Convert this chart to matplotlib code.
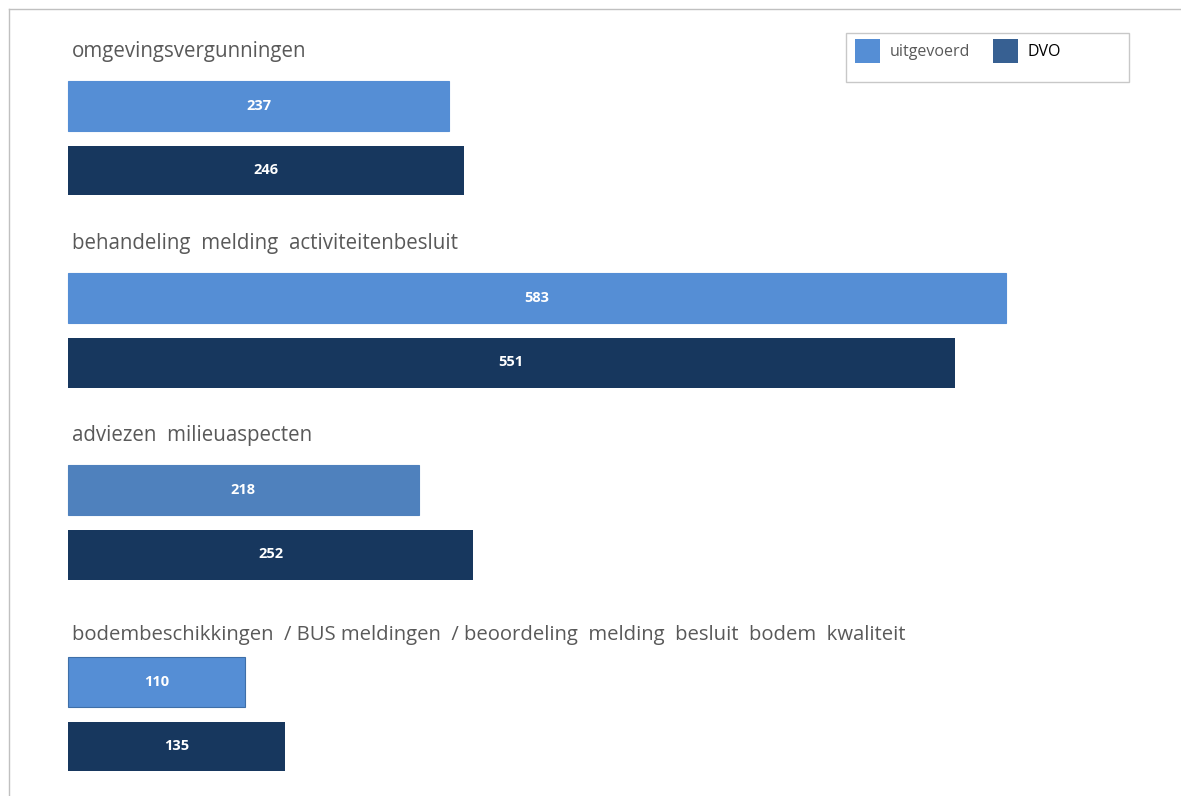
import matplotlib
matplotlib.use("Agg")
import matplotlib.pyplot as plt
from matplotlib.patches import Patch, Rectangle
from matplotlib.lines import Line2D

categories = [
    "omgevingsvergunningen",
    "behandeling  melding  activiteitenbesluit",
    "adviezen  milieuaspecten",
    "bodembeschikkingen  / BUS meldingen  / beoordeling  melding  besluit  bodem  kwaliteit",
]
uitgevoerd = [237, 583, 218, 110]
dvo = [246, 551, 252, 135]
series_names = ["uitgevoerd", "DVO"]

light_colors = ["#558ED5", "#558ED5", "#4F81BD", "#558ED5"]
dark_color = "#17375E"
legend_dark = "#376092"
label_color = "#595959"
font = ["Open Sans", "DejaVu Sans"]

W, H = 1181, 796
fig = plt.figure(figsize=(W / 100, H / 100), dpi=100)
ax = fig.add_axes([0, 0, 1, 1])

px_per_unit = (1006 - 68) / 583.0
ax.set_xlim(-68 / px_per_unit, (W - 68) / px_per_unit)
grp = 192.0
ax.set_ylim(H / grp, 0)
ax.axis("off")

bar_h = 50 / grp
off1 = 106 / grp
off2 = 170.5 / grp
lab_off = 51 / grp

for i, cat in enumerate(categories):
    y1 = i + off1
    y2 = i + off2
    ax.barh(y1, uitgevoerd[i], height=bar_h, left=0, color=light_colors[i],
            edgecolor="#3f6fa8" if i == 3 else light_colors[i], linewidth=0.8)
    ax.barh(y2, dvo[i], height=bar_h, left=0, color=dark_color)
    ax.text(uitgevoerd[i] / 2, y1, str(uitgevoerd[i]), color="white", fontsize=10.5,
            fontweight="bold", ha="center", va="center", family=font)
    ax.text(dvo[i] / 2, y2, str(dvo[i]), color="white", fontsize=10.5,
            fontweight="bold", ha="center", va="center", family=font)
    ly = i + lab_off + (8 / grp if i == 3 else 0)
    fs = 14.6 if i == 3 else 14.8
    ax.text(4 / px_per_unit, ly, cat, color=label_color, fontsize=fs,
            ha="left", va="center", family=font)

# outer frame lines (top and left)
fig.add_artist(Line2D([9 / W, 1], [1 - 9 / H, 1 - 9 / H], color="#c0c0c0", lw=1))
fig.add_artist(Line2D([9 / W, 9 / W], [1 - 9 / H, 0], color="#c0c0c0", lw=1))

# legend box
fig.add_artist(Rectangle((846 / W, 1 - 82 / H), (1129 - 846) / W, (82 - 33) / H,
                         transform=fig.transFigure, fill=False,
                         edgecolor="#c8c8c8", lw=1))
handles = [Patch(facecolor="#558ED5"), Patch(facecolor=legend_dark)]
leg = fig.legend(handles, series_names, loc="center left",
                 bbox_to_anchor=(841 / W, 1 - 51 / H), ncol=2, frameon=False,
                 handlelength=1.56, handleheight=1.85, handletextpad=0.6,
                 columnspacing=1.45, prop={"family": font, "size": 11.5})
leg.get_texts()[0].set_color(label_color)
leg.get_texts()[1].set_color("black")

fig.savefig("out.png", dpi=100)
